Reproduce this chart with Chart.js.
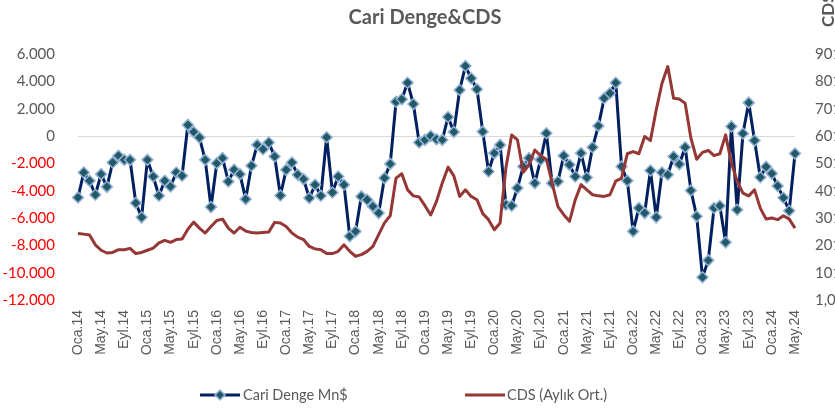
<!DOCTYPE html>
<html><head><meta charset="utf-8">
<script src="https://cdn.jsdelivr.net/npm/chart.js@4.4.1/dist/chart.umd.min.js"></script>
<style>html,body{margin:0;padding:0;background:#fff;}canvas{display:block;}</style>
</head><body>
<canvas id="c" width="835" height="410"></canvas>
<script>
const categories = [
 'Oca.14','Şub.14','Mar.14','Nis.14','May.14','Haz.14','Tem.14','Ağu.14','Eyl.14','Eki.14','Kas.14','Ara.14',
 'Oca.15','Şub.15','Mar.15','Nis.15','May.15','Haz.15','Tem.15','Ağu.15','Eyl.15','Eki.15','Kas.15','Ara.15',
 'Oca.16','Şub.16','Mar.16','Nis.16','May.16','Haz.16','Tem.16','Ağu.16','Eyl.16','Eki.16','Kas.16','Ara.16',
 'Oca.17','Şub.17','Mar.17','Nis.17','May.17','Haz.17','Tem.17','Ağu.17','Eyl.17','Eki.17','Kas.17','Ara.17',
 'Oca.18','Şub.18','Mar.18','Nis.18','May.18','Haz.18','Tem.18','Ağu.18','Eyl.18','Eki.18','Kas.18','Ara.18',
 'Oca.19','Şub.19','Mar.19','Nis.19','May.19','Haz.19','Tem.19','Ağu.19','Eyl.19','Eki.19','Kas.19','Ara.19',
 'Oca.20','Şub.20','Mar.20','Nis.20','May.20','Haz.20','Tem.20','Ağu.20','Eyl.20','Eki.20','Kas.20','Ara.20',
 'Oca.21','Şub.21','Mar.21','Nis.21','May.21','Haz.21','Tem.21','Ağu.21','Eyl.21','Eki.21','Kas.21','Ara.21',
 'Oca.22','Şub.22','Mar.22','Nis.22','May.22','Haz.22','Tem.22','Ağu.22','Eyl.22','Eki.22','Kas.22','Ara.22',
 'Oca.23','Şub.23','Mar.23','Nis.23','May.23','Haz.23','Tem.23','Ağu.23','Eyl.23','Eki.23','Kas.23','Ara.23',
 'Oca.24','Şub.24','Mar.24','Nis.24','May.24'
];
const cariDenge = [
 -4500,-2670,-3280,-4300,-2790,-3720,-1940,-1450,-1745,-1745,-4900,-5950,
 -1745,-2960,-4370,-3280,-3690,-2670,-2910,810,300,-115,-1745,-5200,
 -1990,-1620,-3330,-2475,-2790,-4620,-2180,-650,-965,-480,-1500,-4350,
 -2475,-1940,-2840,-3155,-4540,-3570,-4370,-90,-4130,-2960,-3570,-7340,
 -6980,-4420,-4660,-5150,-5640,-3080,-2040,2510,2690,3900,2340,-480,
 -285,0,-235,-285,1390,300,3365,5120,4220,3420,320,-2600,
 -1255,-650,-5030,-5100,-3810,-2230,-1620,-3450,-1745,200,-3450,-3330,
 -1450,-2110,-2960,-1255,-3035,-820,740,2760,3125,3900,-2230,-3280,
 -6980,-5270,-5640,-2520,-5950,-2670,-2840,-1500,-2060,-820,-3990,-5880,
 -10340,-9100,-5270,-5100,-7780,700,-5400,180,2440,-335,-3020,-2250,
 -2750,-3660,-4520,-5470,-1280
];
const cds = [
 244,242,239,203,183,173,175,185,185,190,171,175,
 183,191,210,219,212,222,224,260,286,264,246,270,
 292,297,264,246,267,253,248,246,248,250,285,283,
 270,246,231,222,197,188,185,171,171,179,203,179,
 161,167,179,197,240,283,309,447,463,404,382,378,
 346,312,362,429,487,455,380,404,380,368,317,295,
 258,283,484,605,587,468,496,550,529,516,429,343,
 313,289,368,423,404,386,382,380,386,436,447,536,
 544,536,599,584,697,794,855,739,736,721,593,516,
 541,548,529,536,605,502,435,392,382,404,337,297,
 301,295,309,297,264
];
const leftTickLabels = ['-12.000','-10.000','-8.000','-6.000','-4.000','-2.000','0','2.000','4.000','6.000'];
const rightTickLabels = ['1,0','101,0','201,0','301,0','401,0','501,0','601,0','701,0','801,0','901,0'];
const seriesNames = ['Cari Denge Mn$','CDS (Aylık Ort.)'];
const titleText = 'Cari Denge&CDS';
const rightAxisTitle = 'CDS';

const NAVY = '#002060', RED = '#953735', MFILL = '#215967', MBORDER = '#95B3D7', TXT = '#595959';

function diamond(ctx, x, y, r) {
  ctx.beginPath();
  ctx.moveTo(x, y - r); ctx.lineTo(x + r, y); ctx.lineTo(x, y + r); ctx.lineTo(x - r, y); ctx.closePath();
  ctx.fillStyle = MFILL; ctx.fill();
  ctx.lineWidth = 1.5; ctx.strokeStyle = MBORDER; ctx.stroke();
}

const decor = {
  id: 'decor',
  afterDraw(chart) {
    const ctx = chart.ctx;
    ctx.save();
    ctx.fillStyle = TXT;
    ctx.font = 'bold 20px Lato';
    ctx.textAlign = 'center'; ctx.textBaseline = 'middle';
    ctx.fillText(titleText, 425, 18);
    ctx.save();
    ctx.translate(829, 27); ctx.rotate(-Math.PI / 2);
    ctx.textAlign = 'left'; ctx.font = 'bold 17px Lato';
    ctx.fillText(rightAxisTitle, 0, 0);
    ctx.restore();
    // legend
    const ly = 395;
    ctx.lineWidth = 3; ctx.lineCap = 'butt';
    ctx.strokeStyle = NAVY;
    ctx.beginPath(); ctx.moveTo(200, ly); ctx.lineTo(240, ly); ctx.stroke();
    diamond(ctx, 220, ly, 5);
    ctx.strokeStyle = RED; ctx.lineWidth = 3;
    ctx.beginPath(); ctx.moveTo(465, ly); ctx.lineTo(505, ly); ctx.stroke();
    ctx.fillStyle = TXT; ctx.font = '14.5px Lato'; ctx.textAlign = 'left'; ctx.textBaseline = 'middle';
    ctx.fillText(seriesNames[0], 243, ly);
    ctx.fillText(seriesNames[1], 507, ly);
    ctx.restore();
  }
};

new Chart(document.getElementById('c'), {
  type: 'line',
  data: {
    labels: categories,
    datasets: [
      { label: seriesNames[0], data: cariDenge, yAxisID: 'y', order: 1,
        borderColor: NAVY, borderWidth: 3, borderJoinStyle: 'round', tension: 0,
        pointStyle: 'rectRot', pointRadius: 5.5, pointBackgroundColor: MFILL,
        pointBorderColor: MBORDER, pointBorderWidth: 1.5 },
      { label: seriesNames[1], data: cds, yAxisID: 'y1', order: 0,
        borderColor: RED, borderWidth: 3, borderJoinStyle: 'round', tension: 0,
        pointRadius: 0 }
    ]
  },
  options: {
    responsive: false, animation: false, devicePixelRatio: 1,
    layout: { padding: { top: 54, bottom: 35, left: 0, right: 0 } },
    plugins: { legend: { display: false }, title: { display: false }, tooltip: { enabled: false } },
    scales: {
      x: {
        offset: false,
        grid: { display: false, drawTicks: false }, border: { display: false },
        ticks: { autoSkip: false, maxRotation: 90, minRotation: 90, padding: 10, color: TXT,
          font: { family: 'Liberation Sans', size: 14 },
          callback: (v, i) => (i % 4 === 0 ? categories[i] : '') },
        afterFit: s => { s.height = 75; }
      },
      y: {
        position: 'left', min: -12000, max: 6000,
        ticks: { stepSize: 2000, padding: 23, font: { family: 'Lato', size: 15 },
          color: c => (c.tick && c.tick.value < 0 ? '#FF0000' : TXT),
          callback: (v, i) => leftTickLabels[i] },
        grid: { drawTicks: false, color: c => (c.tick && c.tick.value === 0 ? '#D9D9D9' : 'rgba(0,0,0,0)'), lineWidth: 1 },
        border: { display: false },
        afterFit: s => { s.width = 78; }
      },
      y1: {
        position: 'right', min: 1, max: 901,
        ticks: { stepSize: 100, padding: 20, color: TXT, font: { family: 'Lato', size: 15 },
          callback: (v, i) => rightTickLabels[i] },
        grid: { display: false, drawTicks: false }, border: { display: false },
        afterFit: s => { s.width = 40; }
      }
    }
  },
  plugins: [decor]
});
</script>
</body></html>
